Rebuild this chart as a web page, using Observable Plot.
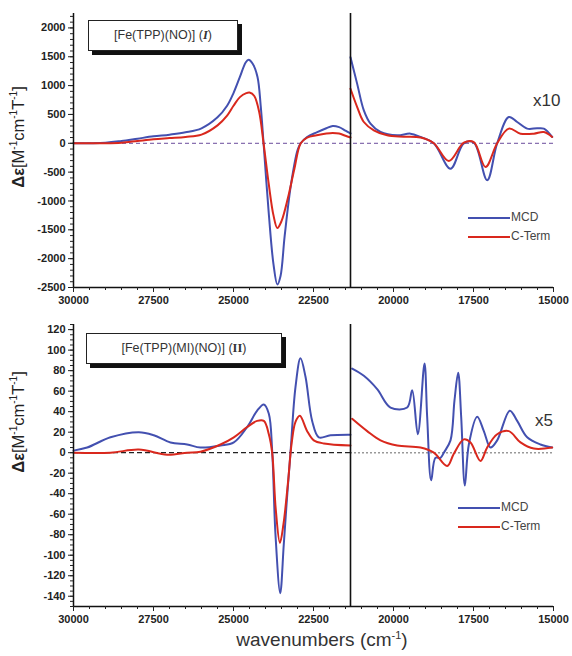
<!DOCTYPE html>
<html>
<head>
<meta charset="utf-8">
<script src="https://cdn.jsdelivr.net/npm/d3@7"></script>
<script src="https://cdn.jsdelivr.net/npm/@observablehq/plot@0.6"></script>
<style>
  body { margin: 0; background: #fff; }
  #wrap { position: relative; width: 572px; height: 656px; overflow: hidden; font-family: "Liberation Sans", Arial, sans-serif; }
  .box { position: absolute; border: 1.5px solid #222; background: #fff; box-shadow: 4px 4px 0 #111; font-size: 12.5px; color: #333; text-align: center; line-height: 28px; }
  .box b { font-family: "Liberation Serif", "DejaVu Serif", serif; font-weight: bold; }
  .leg { position: absolute; font-size: 12px; color: #444; }
  .leg span.sw { display: inline-block; width: 42px; height: 0; border-top: 2.2px solid; vertical-align: middle; margin-right: 1px; }
  .ylab { position: absolute; transform: translate(-50%, -50%) rotate(-90deg); white-space: nowrap; font-size: 16.5px; color: #222; }
  .ylab sup { font-size: 10px; }
  .mult { position: absolute; font-size: 17px; color: #333; line-height: 20px; }
  .xlab { position: absolute; font-size: 19px; color: #333; white-space: nowrap; transform: translate(-50%, -50%); }
  .xlab sup { font-size: 11px; }
  svg { overflow: visible; }
</style>
</head>
<body>
<div id="wrap"></div>
<script>
// ---------- data ----------
const xTicks = [30000, 27500, 25000, 22500, 20000, 17500, 15000];
const splitWn = 21344; // break between normal and scaled regions
const topYTicks = [-2500, -2000, -1500, -1000, -500, 0, 500, 1000, 1500, 2000];
const botYTicks = [-140, -120, -100, -80, -60, -40, -20, 0, 20, 40, 60, 80, 100, 120];

// Panel I (top), [wavenumber, Δε]
const topMcdLeft = [[30000,0],[29000,10],[28500,40],[28000,80],[27500,120],[27000,150],[26500,190],[26000,260],[25500,450],[25200,650],[25000,870],[24800,1150],[24620,1400],[24530,1450],[24400,1380],[24250,1150],[24150,650],[24060,0],[23900,-1200],[23750,-2100],[23630,-2450],[23530,-2300],[23400,-1600],[23200,-700],[23000,-120],[22900,0],[22700,110],[22400,190],[22100,260],[21900,300],[21700,280],[21500,220],[21344,170]];
const topCtermLeft = [[30000,0],[29000,0],[28500,10],[28000,40],[27500,70],[27000,90],[26500,110],[26000,150],[25500,310],[25200,480],[25000,650],[24800,800],[24600,870],[24500,880],[24350,820],[24200,550],[24060,0],[23900,-700],[23750,-1250],[23630,-1470],[23500,-1350],[23300,-950],[23100,-450],[22900,0],[22700,100],[22400,140],[22100,170],[21900,180],[21700,170],[21500,130],[21344,100]];
const topMcdRight = [[21344,1490],[21135,1030],[20927,570],[20719,340],[20406,196],[19885,138],[19469,167],[19156,110],[18740,0],[18219,-440],[17802,0],[17490,10],[17073,-640],[16760,0],[16396,455],[16135,369],[15823,254],[15510,260],[15302,254],[15042,110]];
const topCtermRight = [[21344,946],[21135,629],[20927,369],[20615,225],[20198,138],[19677,115],[19156,100],[18740,0],[18271,-306],[17802,10],[17490,20],[17125,-410],[16760,0],[16396,254],[16031,167],[15615,167],[15302,196],[15042,110]];

// Panel II (bottom)
const botMcdLeft = [[30000,2],[29573,5],[28844,15],[27959,20],[27490,17],[26969,10],[26448,8],[26031,5],[25406,7],[24990,10],[24573,25],[24260,41],[24052,47],[23896,38],[23792,2],[23688,-80],[23540,-137],[23430,-90],[23330,-45],[23219,0],[23063,64],[22906,92],[22750,74],[22542,31],[22333,15],[21969,17],[21344,17.5]];
const botCtermLeft = [[30000,0],[28844,0],[27959,3],[27073,-2],[26448,0],[26031,1],[25406,8],[24990,15],[24573,25],[24260,31],[24052,31],[23896,18],[23792,0],[23680,-55],[23550,-88],[23440,-70],[23300,-30],[23180,10],[23063,30],[22927,36],[22698,21],[22490,12],[22177,9],[21344,7]];
const botMcdRight = [[21292,82],[20927,75],[20510,62],[20094,44],[19573,44],[19417,61],[19240,18],[19031,87],[18948,35],[18823,-27],[18688,-5],[18531,-5],[18427,0],[18219,12],[18094,51],[17979,78],[17885,35],[17771,-32],[17646,8],[17385,35],[17177,21],[16969,5],[16760,12],[16365,41],[16135,31],[15823,15],[15406,8],[15042,5]];
const botCtermRight = [[21292,33],[20823,21],[20406,12],[19885,7],[19156,5],[18740,0],[18323,-13],[18115,-1],[17802,13],[17594,10],[17281,-8],[17073,5],[16760,18],[16396,21],[16031,10],[15615,4],[15042,5]];

const blue = "#4350b0";
const red = "#d9281d";
const W = 572;

function panel({height, marginTop, marginBottom, yDomain, yTicks, yMinor, zeroMarks, series}) {
  return Plot.plot({
    width: W, height, marginLeft: 73, marginRight: 19, marginTop, marginBottom,
    style: {fontFamily: "'Liberation Sans', Arial, sans-serif", fontSize: "11px", fontWeight: "bold", color: "#222", background: "transparent"},
    x: {domain: [30000, 15000], label: null},
    y: {domain: yDomain, label: null},
    marks: [
      ...zeroMarks,
      ...series.map(([d, c]) => Plot.line(d, {x: d => d[0], y: d => d[1], stroke: c, strokeWidth: 2, curve: "catmull-rom"})),
      Plot.ruleX([splitWn], {stroke: "#111", strokeWidth: 1.6}),
      Plot.ruleX([30000], {stroke: "#111", strokeWidth: 1.5}),
      Plot.ruleY([yDomain[0]], {stroke: "#111", strokeWidth: 1.5}),
      Plot.axisX({ticks: d3.range(15000, 30001, 500), tickSize: 3, tickFormat: () => "", stroke: "#222"}),
      Plot.axisX({ticks: xTicks, tickSize: 5, tickPadding: 4, tickFormat: d => String(d), stroke: "#222"}),
      Plot.axisY({ticks: yMinor, tickSize: 3, tickFormat: () => "", stroke: "#222"}),
      Plot.axisY({ticks: yTicks, tickSize: 5, tickPadding: 3, tickFormat: d => String(d), stroke: "#222"})
    ]
  });
}

const topPlot = panel({
  height: 320, marginTop: 13, marginBottom: 33,
  yDomain: [-2500, 2250], yTicks: topYTicks, yMinor: d3.range(-2500, 2201, 100),
  zeroMarks: [Plot.ruleY([0], {stroke: "#6a4c9c", strokeWidth: 1, strokeDasharray: "4,3"})],
  series: [[topMcdLeft, blue], [topCtermLeft, red], [topMcdRight, blue], [topCtermRight, red]]
});
const bottomPlot = panel({
  height: 351, marginTop: 19, marginBottom: 50,
  yDomain: [-150, 125], yTicks: botYTicks, yMinor: d3.range(-150, 126, 5),
  zeroMarks: [
    Plot.ruleY([0], {x1: 30000, x2: splitWn, stroke: "#222", strokeWidth: 1.2, strokeDasharray: "5,3"}),
    Plot.ruleY([0], {x1: splitWn, x2: 15000, stroke: "#999", strokeWidth: 1.5, strokeDasharray: "2,2"})
  ],
  series: [[botMcdLeft, blue], [botCtermLeft, red], [botMcdRight, blue], [botCtermRight, red]]
});

const wrap = document.getElementById("wrap");
topPlot.style.position = "absolute"; topPlot.style.left = "0px"; topPlot.style.top = "0px";
bottomPlot.style.position = "absolute"; bottomPlot.style.left = "0px"; bottomPlot.style.top = "305px";
wrap.appendChild(topPlot);
wrap.appendChild(bottomPlot);

function add(html) { const t = document.createElement("template"); t.innerHTML = html.trim(); wrap.appendChild(t.content.firstChild); }

add(`<div class="box" style="left:88px;top:20px;width:148px;height:29px;">[Fe(TPP)(NO)] (<b><i>I</i></b>)</div>`);
add(`<div class="box" style="left:86px;top:333px;width:194px;height:29px;">[Fe(TPP)(MI)(NO)] (<b>II</b>)</div>`);
add(`<div class="ylab" style="left:18px;top:137px;"><b>Δε</b>[M<sup>-1</sup>cm<sup>-1</sup>T<sup>-1</sup>]</div>`);
add(`<div class="ylab" style="left:18px;top:422px;"><b>Δε</b>[M<sup>-1</sup>cm<sup>-1</sup>T<sup>-1</sup>]</div>`);
add(`<div class="xlab" style="left:322px;top:640px;">wavenumbers (cm<sup>-1</sup>)</div>`);
add(`<div class="mult" style="left:533px;top:91px;">x10</div>`);
add(`<div class="mult" style="left:535px;top:411px;">x5</div>`);
add(`<div class="leg" style="left:468px;top:210px;"><span class="sw" style="border-color:${blue}"></span>MCD</div>`);
add(`<div class="leg" style="left:468px;top:229px;"><span class="sw" style="border-color:${red}"></span>C-Term</div>`);
add(`<div class="leg" style="left:458px;top:500px;"><span class="sw" style="border-color:${blue}"></span>MCD</div>`);
add(`<div class="leg" style="left:458px;top:519px;"><span class="sw" style="border-color:${red}"></span>C-Term</div>`);
</script>
</body>
</html>
